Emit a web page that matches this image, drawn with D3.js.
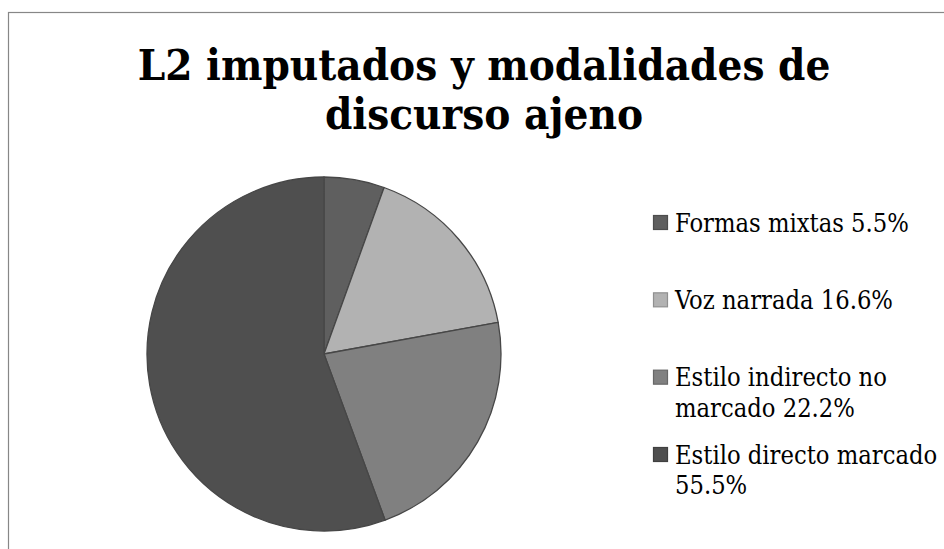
<!DOCTYPE html>

<head>
    <meta charset="utf-8" />
    <script src="https://d3js.org/d3.v7.min.js"></script>
    <style>
        body {
            margin: 0;
            background: #fff;
        }

        .title {
            font-family: "DejaVu Serif", serif;
            font-stretch: condensed;
            font-weight: bold;
            fill: #000;
        }

        .legend text {
            font-family: "DejaVu Serif", serif;
            font-stretch: condensed;
            fill: #000;
        }
    </style>
</head>

<body>
    <script>
        // donnees
        var categories = ["Formas mixtas", "Voz narrada", "Estilo indirecto no marcado", "Estilo directo marcado"];
        var valeurs = [5.5, 16.6, 22.2, 55.5];
        var etiquettes = ["5.5%", "16.6%", "22.2%", "55.5%"];
        var couleurs = ["#5f5f5f", "#b2b2b2", "#808080", "#4f4f4f"];
        var titre = ["L2 imputados y modalidades de", "discurso ajeno"];

        var width = 944,
            height = 549;

        var svg = d3
            .select("body")
            .append("svg")
            .attr("width", width)
            .attr("height", height);

        // cadre du graphique (il sort de l'image a droite et en bas)
        svg.append("rect")
            .attr("x", 8.5)
            .attr("y", 12.5)
            .attr("width", 1000)
            .attr("height", 600)
            .attr("fill", "none")
            .attr("stroke", "#878787")
            .attr("stroke-width", 1.2);

        // Cambria n'est pas installee : on cherche la taille de police
        // qui donne au texte la meme largeur que sur l'original
        function tailleAjustee(parent, classe, texte, largeur) {
            var essai = parent.append("text").attr("class", classe).style("font-size", "40px").text(texte);
            var l = essai.node().getComputedTextLength();
            essai.remove();
            return 40 * largeur / l;
        }

        // titre sur deux lignes
        var tailleTitre = tailleAjustee(svg, "title", titre[0], 693);

        svg.append("text")
            .attr("class", "title")
            .attr("text-anchor", "middle")
            .style("font-size", tailleTitre + "px")
            .selectAll("tspan")
            .data(titre)
            .join("tspan")
            .attr("x", 484)
            .attr("y", function(d, i) { return 80 + i * 49; })
            .text(function(d) { return d; });

        // le camembert
        var cx = 324,
            cy = 354,
            rayon = 177;

        var pie = d3.pie().sort(null).value(function(d) { return d; });
        var arc = d3.arc().innerRadius(0).outerRadius(rayon);

        var g = svg.append("g").attr("transform", "translate(" + cx + "," + cy + ")");

        g.selectAll("path")
            .data(pie(valeurs))
            .join("path")
            .attr("d", arc)
            .attr("fill", function(d, i) { return couleurs[i]; })
            .attr("stroke", "#474747")
            .attr("stroke-width", 1.3)
            .attr("stroke-linejoin", "round");

        // legende
        var leg = svg.append("g").attr("class", "legend");
        var tailleLeg = tailleAjustee(leg, null, categories[1] + " " + etiquettes[1], 218);

        var yLeg = d3.scaleLinear().domain([0, categories.length - 1]).range([215, 447]);
        var maxLargeur = 266;

        var items = leg.selectAll("g")
            .data(categories)
            .join("g")
            .attr("transform", function(d, i) { return "translate(653," + yLeg(i) + ")"; });

        items.append("rect")
            .attr("x", 0.5)
            .attr("y", 0.5)
            .attr("width", 14)
            .attr("height", 14)
            .attr("fill", function(d, i) { return couleurs[i]; })
            .attr("stroke", function(d, i) { return d3.color(couleurs[i]).darker(0.6); })
            .attr("stroke-width", 1.2);

        items.each(function(d, i) {
            var t = d3.select(this).append("text")
                .attr("x", 22)
                .attr("y", 16.5)
                .style("font-size", tailleLeg + "px");
            // on coupe le texte en lignes comme le fait Excel
            var mots = (d + " " + etiquettes[i]).split(" ");
            var ligne = [];
            var tspan = t.append("tspan").attr("x", 22).attr("dy", 0);
            mots.forEach(function(m) {
                ligne.push(m);
                tspan.text(ligne.join(" "));
                if (tspan.node().getComputedTextLength() > maxLargeur && ligne.length > 1) {
                    ligne.pop();
                    tspan.text(ligne.join(" "));
                    ligne = [m];
                    tspan = t.append("tspan").attr("x", 22).attr("dy", 30.7).text(m);
                }
            });
        });
    </script>
</body>
